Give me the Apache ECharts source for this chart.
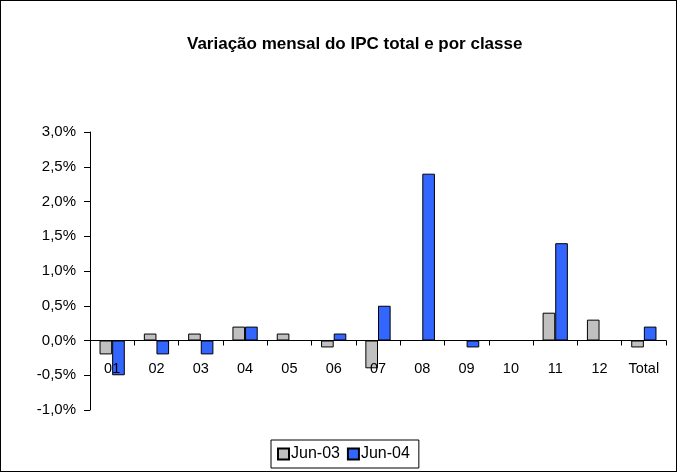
<!DOCTYPE html>
<html><head><meta charset="utf-8">
<script src="https://cdn.jsdelivr.net/npm/echarts@6/dist/echarts.min.js"></script>
<style>html,body{margin:0;padding:0;background:#fff}#c{width:677px;height:472px;box-sizing:border-box;border:1px solid #000}</style>
</head><body><div id="c"></div>
<script>
const categories = ['01','02','03','04','05','06','07','08','09','10','11','12','Total'];
const jun03 = [-0.2, 0.1, 0.1, 0.2, 0.1, -0.1, -0.4, 0, 0, 0, 0.4, 0.3, -0.1];
const jun04 = [-0.5, -0.2, -0.2, 0.2, 0, 0.1, 0.5, 2.4, -0.1, 0, 1.4, 0, 0.2];
const seriesNames = ['Jun-03', 'Jun-04'];
const chart = echarts.init(document.getElementById('c'), null, {renderer: 'canvas'});
const font = 'Arial, "Liberation Sans", sans-serif';
chart.setOption({
  animation: false,
  textStyle: {fontFamily: font},
  title: {text: 'Variação mensal do IPC total e por classe', left: 181, top: 30,
    textStyle: {fontFamily: font, fontSize: 17, fontWeight: 'bold', color: '#000'}},
  legend: {data: seriesNames, bottom: 3, left: 270, icon: 'rect', itemWidth: 11, itemHeight: 11, itemGap: 7,
    borderColor: '#000', borderWidth: 1, padding: [6, 9, 6, 6],
    textStyle: {fontFamily: font, fontSize: 16, color: '#000', padding: [0, 0, 0, -3]}},
  grid: {left: 89, right: 10, top: 131, bottom: 61, containLabel: false},
  xAxis: {type: 'category', data: categories, z: 5,
    axisLine: {onZero: true, lineStyle: {color: '#000', width: 1}},
    axisTick: {show: true, alignWithLabel: false, inside: false, length: 5, lineStyle: {color: '#000'}},
    axisLabel: {color: '#000', fontSize: 14.5, fontFamily: font, margin: -49, interval: 0},
    splitLine: {show: false}},
  yAxis: {type: 'value', min: -1, max: 3, interval: 0.5,
    axisLine: {show: true, lineStyle: {color: '#000'}},
    axisTick: {show: true, length: 6, lineStyle: {color: '#000'}},
    axisLabel: {color: '#000', fontSize: 15, fontFamily: font, margin: 14,
      formatter: v => v.toFixed(1).replace('.', ',') + '%'},
    splitLine: {show: false}},
  series: [
    {name: seriesNames[0], type: 'bar', data: jun03, barGap: '0%', barCategoryGap: '43%',
      itemStyle: {color: '#C0C0C0', borderColor: '#000', borderWidth: 1}},
    {name: seriesNames[1], type: 'bar', data: jun04, barGap: '0%', barCategoryGap: '43%',
      itemStyle: {color: '#3366FF', borderColor: '#000', borderWidth: 1}}
  ]
});
</script></body></html>
